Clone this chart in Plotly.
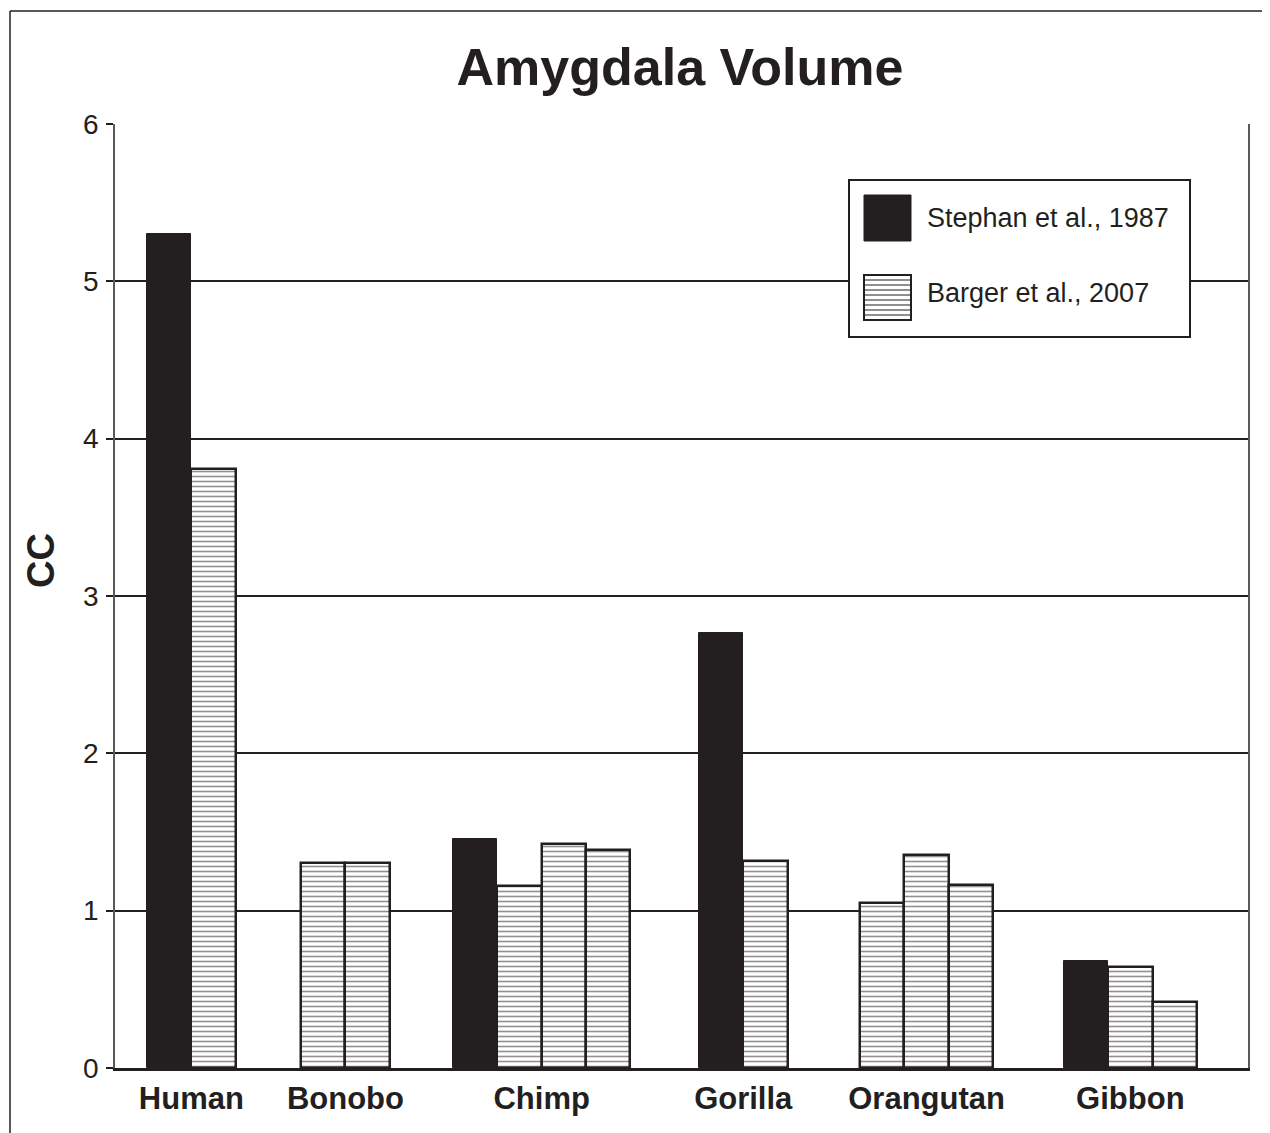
import plotly.graph_objects as go

# ---------- data ----------
categories = ["Human", "Bonobo", "Chimp", "Gorilla", "Orangutan", "Gibbon"]
stephan_1987 = [5.30, None, 1.455, 2.765, None, 0.68]
barger_2007 = [
    [3.81],
    [1.30, 1.30],
    [1.157, 1.424, 1.386],
    [1.316],
    [1.049, 1.354, 1.163],
    [0.642, 0.42],
]
legend_labels = ["Stephan et al., 1987", "Barger et al., 2007"]
y_ticks = [0, 1, 2, 3, 4, 5, 6]

INK = "#231f20"
FONT = "Liberation Sans, Arial, sans-serif"
GAPS = [1.47, 1.42, 1.54, 1.63, 1.59]  # space between groups, in bar widths

# ---------- lay the bars out left to right ----------
st_x, st_y, bg_x, bg_y, centers = [], [], [], [], []
pos = 0.0
for i, cat in enumerate(categories):
    start = pos
    if stephan_1987[i] is not None:
        st_x.append(pos)
        st_y.append(stephan_1987[i])
        pos += 1
    for v in barger_2007[i]:
        bg_x.append(pos)
        bg_y.append(v)
        pos += 1
    centers.append((start + pos - 1) / 2)
    if i < len(GAPS):
        pos += GAPS[i]

fig = go.Figure()
fig.add_bar(
    x=st_x, y=st_y, width=1, name=legend_labels[0],
    marker=dict(color=INK, line=dict(color=INK, width=1)),
)
fig.add_bar(
    x=bg_x, y=bg_y, width=1, name=legend_labels[1],
    marker=dict(
        color="white",
        line=dict(color=INK, width=2.5),
        pattern=dict(shape="-", size=5, solidity=0.32, fgcolor=INK, bgcolor="white"),
    ),
)

# ---------- plot-area geometry (pixels, page body has an 8px margin) ----------
W, H = 1270, 1133
OFF = 8
L, R, T, B = 115 - OFF, 1248 - OFF, 124 - OFF, 1068 - OFF


def px(x):
    return (x - OFF - L) / (R - L)


def py(y):
    return (B - (y - OFF)) / (B - T)


fig.update_layout(
    width=W, height=H,
    margin=dict(l=L, r=W - R, t=T, b=H - B),
    paper_bgcolor="white", plot_bgcolor="white",
    barmode="overlay", bargap=0, showlegend=False,
    font=dict(family=FONT, color=INK),
    title=dict(
        text="<b>Amygdala Volume</b>", font=dict(size=52, color=INK),
        x=px(680), xref="paper", xanchor="center",
        y=1 - (67 - OFF) / H, yref="container", yanchor="middle",
    ),
    xaxis=dict(
        range=[-1.221, 24.30], tickvals=centers,
        ticktext=[f"<b>{c}</b>" for c in categories],
        tickfont=dict(size=31, color=INK), ticks="", ticklabelstandoff=1,
        showgrid=False, zeroline=False,
        showline=True, linecolor=INK, linewidth=2.5,
    ),
    yaxis=dict(
        range=[0, 6], tickvals=y_ticks, tickfont=dict(size=28, color=INK),
        ticks="outside", ticklen=7, tickwidth=1.5, tickcolor=INK, ticklabelstandoff=2,
        showgrid=True, gridcolor=INK, gridwidth=2, zeroline=False,
        showline=True, linecolor="#58595b", linewidth=1.5, mirror=True,
    ),
)

# y-axis title
fig.add_annotation(
    text="<b>CC</b>", textangle=-90, font=dict(size=38, color=INK),
    xref="paper", yref="paper", x=px(41), y=py(561),
    xanchor="center", yanchor="middle", showarrow=False,
)

# ---------- hand-drawn legend (large swatches) ----------
shapes = [
    # outer frame of the figure
    dict(type="line", xref="paper", yref="paper", x0=px(10), x1=px(10), y0=py(11), y1=py(1150),
         line=dict(color=INK, width=1.5)),
    dict(type="line", xref="paper", yref="paper", x0=px(10), x1=px(1290), y0=py(11), y1=py(11),
         line=dict(color=INK, width=1.5)),
    # legend box
    dict(type="rect", xref="paper", yref="paper", x0=px(849), x1=px(1190), y0=py(337), y1=py(180),
         line=dict(color=INK, width=2), fillcolor="white", layer="above"),
    # solid swatch
    dict(type="rect", xref="paper", yref="paper", x0=px(864), x1=px(911), y0=py(241), y1=py(195),
         line=dict(color=INK, width=1), fillcolor=INK, layer="above"),
    # hatched swatch
    dict(type="rect", xref="paper", yref="paper", x0=px(864), x1=px(911), y0=py(320), y1=py(275),
         line=dict(color=INK, width=2), fillcolor="white", layer="above"),
]
for k in range(1, 9):
    yy = 275 + k * 5
    shapes.append(dict(type="line", xref="paper", yref="paper", x0=px(864), x1=px(911),
                       y0=py(yy), y1=py(yy), line=dict(color=INK, width=1.2), layer="above"))
fig.update_layout(shapes=shapes)

for label, yc in zip(legend_labels, [218, 293]):
    fig.add_annotation(
        text=label, font=dict(size=27, color=INK),
        xref="paper", yref="paper", x=px(925), y=py(yc),
        xanchor="left", yanchor="middle", showarrow=False,
    )

fig.write_html("out.html")
